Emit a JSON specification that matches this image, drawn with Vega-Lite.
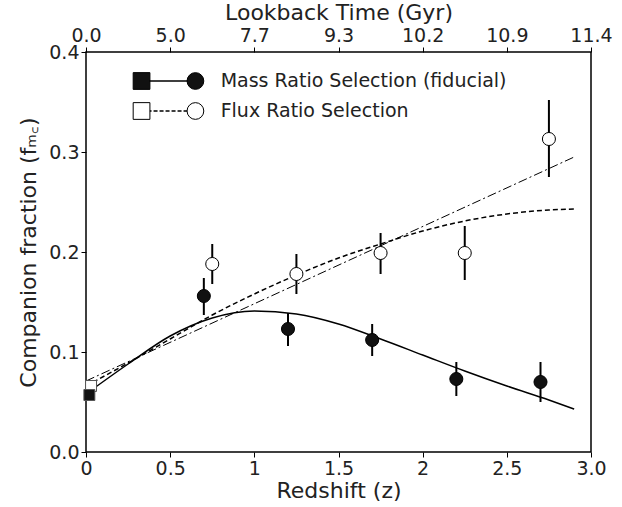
{
  "$schema": "https://vega.github.io/schema/vega-lite/v6.json",
  "autosize": "none",
  "width": 505,
  "height": 400,
  "padding": {"left": 86, "top": 52, "right": 31, "bottom": 55},
  "config": {
    "view": {"stroke": "black", "strokeWidth": 1.5},
    "font": "DejaVu Sans",
    "axis": {"labelFontSize": 19, "titleFontSize": 22, "labelColor": "#222", "titleColor": "#222", "grid": false, "domain": false, "tickColor": "black", "tickSize": 5, "titleFontWeight": "normal", "labelFlush": false, "labelPadding": 2}
  },
  "datasets": {
    "pts": [
      {"z": 0.7, "f": 0.156, "lo": 0.137, "hi": 0.174, "sel": "mass"},
      {"z": 1.2, "f": 0.123, "lo": 0.106, "hi": 0.139, "sel": "mass"},
      {"z": 1.7, "f": 0.112, "lo": 0.096, "hi": 0.128, "sel": "mass"},
      {"z": 2.2, "f": 0.073, "lo": 0.056, "hi": 0.090, "sel": "mass"},
      {"z": 2.7, "f": 0.070, "lo": 0.050, "hi": 0.090, "sel": "mass"},
      {"z": 0.75, "f": 0.188, "lo": 0.168, "hi": 0.208, "sel": "flux"},
      {"z": 1.25, "f": 0.178, "lo": 0.158, "hi": 0.198, "sel": "flux"},
      {"z": 1.75, "f": 0.199, "lo": 0.178, "hi": 0.219, "sel": "flux"},
      {"z": 2.25, "f": 0.199, "lo": 0.172, "hi": 0.226, "sel": "flux"},
      {"z": 2.75, "f": 0.313, "lo": 0.275, "hi": 0.352, "sel": "flux"}
    ],
    "local": [
      {"z": 0.03, "f": 0.066, "sel": "flux"},
      {"z": 0.02, "f": 0.057, "sel": "mass"}
    ],
    "curves": [
      {"z": 0, "f": 0.058, "c": "solid"}, {"z": 0.25, "f": 0.088, "c": "solid"},
      {"z": 0.5, "f": 0.116, "c": "solid"}, {"z": 0.75, "f": 0.134, "c": "solid"},
      {"z": 1.0, "f": 0.141, "c": "solid"}, {"z": 1.25, "f": 0.138, "c": "solid"},
      {"z": 1.5, "f": 0.128, "c": "solid"}, {"z": 1.75, "f": 0.113, "c": "solid"},
      {"z": 2.0, "f": 0.097, "c": "solid"}, {"z": 2.25, "f": 0.081, "c": "solid"},
      {"z": 2.5, "f": 0.066, "c": "solid"}, {"z": 2.75, "f": 0.052, "c": "solid"},
      {"z": 2.9, "f": 0.043, "c": "solid"},
      {"z": 0, "f": 0.066, "c": "dash"}, {"z": 0.25, "f": 0.089, "c": "dash"},
      {"z": 0.5, "f": 0.113, "c": "dash"}, {"z": 0.75, "f": 0.137, "c": "dash"},
      {"z": 1.0, "f": 0.158, "c": "dash"}, {"z": 1.25, "f": 0.177, "c": "dash"},
      {"z": 1.5, "f": 0.194, "c": "dash"}, {"z": 1.75, "f": 0.208, "c": "dash"},
      {"z": 2.0, "f": 0.221, "c": "dash"}, {"z": 2.25, "f": 0.231, "c": "dash"},
      {"z": 2.5, "f": 0.238, "c": "dash"}, {"z": 2.75, "f": 0.242, "c": "dash"},
      {"z": 2.9, "f": 0.243, "c": "dash"},
      {"z": 0, "f": 0.071, "c": "dashdot"}, {"z": 2.9, "f": 0.295, "c": "dashdot"}
    ],
    "legmark": [
      {"z": 0.33, "f": 0.371, "row": "mass", "shape": "square"},
      {"z": 0.65, "f": 0.371, "row": "mass", "shape": "circle"},
      {"z": 0.33, "f": 0.341, "row": "flux", "shape": "square"},
      {"z": 0.65, "f": 0.341, "row": "flux", "shape": "circle"}
    ],
    "legtext": [
      {"z": 0.8, "f": 0.371, "t": "Mass Ratio Selection (fiducial)"},
      {"z": 0.8, "f": 0.341, "t": "Flux Ratio Selection"}
    ]
  },
  "resolve": {"axis": {"x": "independent"}},
  "layer": [
    {
      "data": {"name": "curves"},
      "transform": [{"filter": "datum.c == 'dashdot'"}],
      "mark": {"type": "line", "color": "black", "strokeWidth": 1, "strokeDash": [9, 3, 2, 3]},
      "encoding": {
        "x": {"field": "z", "type": "quantitative", "scale": {"domain": [0, 3], "nice": false},
          "axis": {"orient": "top", "title": "Lookback Time (Gyr)", "values": [0, 0.5, 1, 1.5, 2, 2.5, 3],
            "labelExpr": "{'0':'0.0','0.5':'5.0','1':'7.7','1.5':'9.3','2':'10.2','2.5':'10.9','3':'11.4'}[datum.value + '']", "titlePadding": 2}},
        "y": {"field": "f", "type": "quantitative", "scale": {"domain": [0, 0.4], "nice": false},
          "axis": {"title": "Companion fraction (f\u2098\ua700)", "values": [0, 0.1, 0.2, 0.3, 0.4], "format": ".1f", "titlePadding": 8}}
      }
    },
    {
      "data": {"name": "curves"},
      "transform": [{"filter": "datum.c == 'dash'"}],
      "mark": {"type": "line", "color": "black", "strokeWidth": 1.5, "strokeDash": [5, 3], "interpolate": "monotone"},
      "encoding": {
        "x": {"field": "z", "type": "quantitative", "axis": {"title": "Redshift (z)", "titlePadding": 2, "values": [0, 0.5, 1, 1.5, 2, 2.5, 3], "labelExpr": "datum.value == 0 ? '0' : datum.value == 1 ? '1' : datum.value == 2 ? '2' : format(datum.value, '.1f')"}},
        "y": {"field": "f", "type": "quantitative"}
      }
    },
    {
      "data": {"name": "curves"},
      "transform": [{"filter": "datum.c == 'solid'"}],
      "mark": {"type": "line", "color": "black", "strokeWidth": 1.5, "interpolate": "monotone"},
      "encoding": {
        "x": {"field": "z", "type": "quantitative", "axis": null},
        "y": {"field": "f", "type": "quantitative"}
      }
    },
    {
      "data": {"name": "pts"},
      "mark": {"type": "rule", "color": "black", "strokeWidth": 2},
      "encoding": {
        "x": {"field": "z", "type": "quantitative", "axis": null},
        "y": {"field": "lo", "type": "quantitative"},
        "y2": {"field": "hi"}
      }
    },
    {
      "data": {"name": "pts"},
      "mark": {"type": "point", "shape": "circle", "size": 170, "stroke": "black", "strokeWidth": 1, "opacity": 1},
      "encoding": {
        "x": {"field": "z", "type": "quantitative", "axis": null},
        "y": {"field": "f", "type": "quantitative"},
        "fill": {"field": "sel", "type": "nominal", "scale": {"domain": ["mass", "flux"], "range": ["#111", "white"]}, "legend": null}
      }
    },
    {
      "data": {"name": "local"},
      "mark": {"type": "point", "shape": "square", "size": 120, "stroke": "#555", "strokeWidth": 1, "opacity": 1},
      "encoding": {
        "x": {"field": "z", "type": "quantitative", "axis": null},
        "y": {"field": "f", "type": "quantitative"},
        "fill": {"field": "sel", "type": "nominal", "legend": null}
      }
    },
    {
      "data": {"name": "legmark"},
      "mark": {"type": "line", "color": "black", "strokeWidth": 1.5},
      "encoding": {
        "x": {"field": "z", "type": "quantitative", "axis": null},
        "y": {"field": "f", "type": "quantitative"},
        "detail": {"field": "row"},
        "strokeDash": {"field": "row", "type": "nominal", "scale": {"domain": ["mass", "flux"], "range": [[1, 0], [4, 2]]}, "legend": null}
      }
    },
    {
      "data": {"name": "legmark"},
      "mark": {"type": "point", "size": 280, "stroke": "black", "strokeWidth": 1, "opacity": 1},
      "encoding": {
        "x": {"field": "z", "type": "quantitative", "axis": null},
        "y": {"field": "f", "type": "quantitative"},
        "shape": {"field": "shape", "type": "nominal", "scale": {"domain": ["square", "circle"], "range": ["square", "circle"]}, "legend": null},
        "fill": {"field": "row", "type": "nominal", "legend": null}
      }
    },
    {
      "data": {"name": "legtext"},
      "mark": {"type": "text", "align": "left", "fontSize": 19, "color": "#222"},
      "encoding": {
        "x": {"field": "z", "type": "quantitative", "axis": null},
        "y": {"field": "f", "type": "quantitative"},
        "text": {"field": "t"}
      }
    }
  ]
}
